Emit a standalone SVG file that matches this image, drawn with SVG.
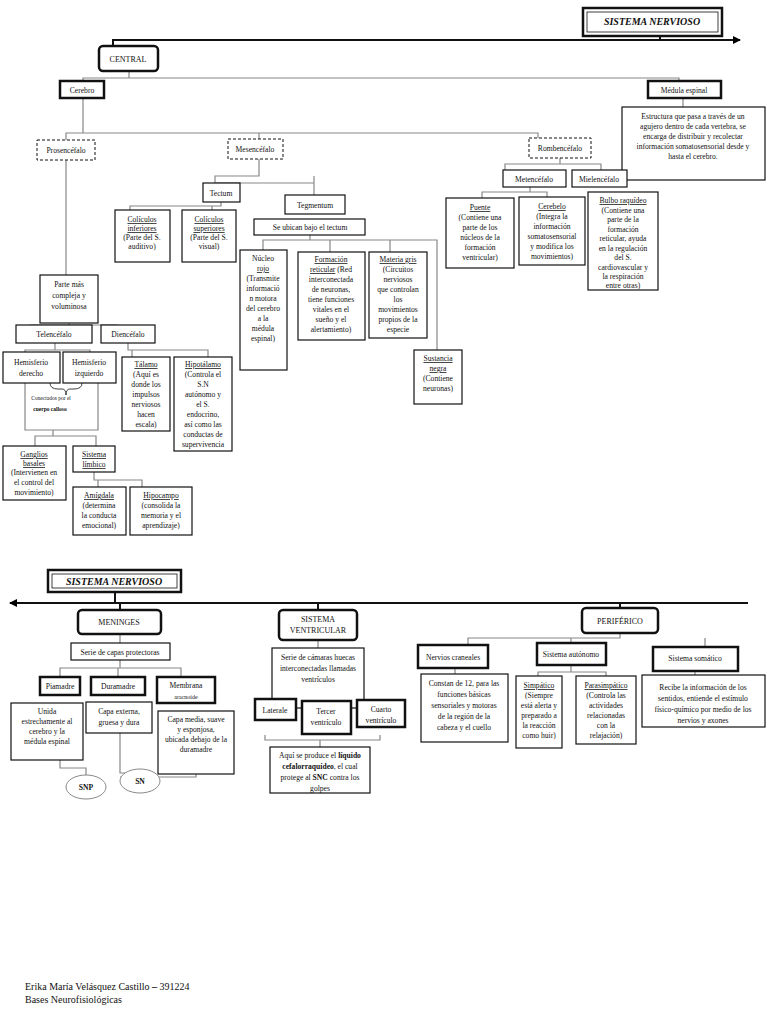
<svg xmlns="http://www.w3.org/2000/svg" width="768" height="1024" viewBox="0 0 768 1024">
<defs><marker id="ar" markerWidth="8" markerHeight="8" refX="7" refY="4" orient="auto" markerUnits="userSpaceOnUse"><path d="M0,0 L8,4 L0,8 z" fill="#000"/></marker></defs>
<style>
text{font-family:"Liberation Serif",serif;font-size:7.6px;fill:#111;text-anchor:middle}
.b{fill:#fff;stroke:#111;stroke-width:1.2}
.t{fill:#fff;stroke:#111;stroke-width:2.5}
.d{fill:#fff;stroke:#111;stroke-width:1;stroke-dasharray:3,2}
.c{fill:none;stroke:#888;stroke-width:1.2}
.k{fill:none;stroke:#111;stroke-width:2}
.u{text-decoration:underline}
.big{font-size:10px;font-weight:bold;font-style:italic}
</style>
<g id="connectors">
<path class="k" d="M660,36 V40 M113,48 V40 H740" marker-end="url(#ar)"/>
<path class="c" d="M129,71 V78 M83,81 V78 H679 V81 M683,98 V107 M83,98 V133 M66,140 V133 H538 V138 M259,133 V139 M66,160 V275 M259,159 V176 H215 V183 H314 M314,176 V195 M221,202 V206 H130 V210 M221,206 H212 V210 M310,235 V240 H263 V250 M310,240 H437 V350 M330,240 V252 M390,240 V252 M560,158 V164 H505 V170 M560,164 H601 V170 M530,187 V192 H482 V198 M530,192 H547 V197 M69,323 V325 H30 M69,325 H118 V325 M55,343 V350 H25 V352 M55,350 H90 V352 M128,343 V350 H208 V357 M132,350 H132 V357 M53,430 V436 H35 V446 M53,436 H96 V446 M94,472 V480 H98 V487 M94,480 H142 V487"/>
<path class="k" d="M748,603 H10" marker-end="url(#ar)"/>
<path class="k" d="M115,592 V603 M120,603 V610 M318,603 V610 M620,603 V608"/>
<path class="c" d="M120,634 V643 M318,640 V648 M620,633 V638 H468 V645 M571,638 V643 M705,638 V647 M120,660 V668 H60 V677 M120,668 H181 V677 M118,668 V677 M318,708 V725 M571,665 V672 H538 V676 M571,672 H606 V676 M455,668 V674 M695,671 V675 M265,735 V740 H380 V735 M320,740 V747 M60,760 V768 H86 V775 M120,733 V773 H140 V769 M196,774 V777 H120"/>
<path class="c" d="M25,383 V430 H98 V383"/>
<path d="M50,383 q0,6 8,6 h4 q4,0 4,6 q0,-6 4,-6 h4 q8,0 8,-6" fill="none" stroke="#111" stroke-width="0.8"/>
</g>
<g id="n_sn1"><rect x="583" y="8" width="139" height="28" class="t"/><rect x="587" y="12" width="131" height="20" fill="none" stroke="#111" stroke-width="0.8"/><text x="652" y="25" class="big">SISTEMA NERVIOSO</text></g>
<g id="n_central"><rect x="99" y="46" width="59" height="25" rx="4" class="t"/><text x="128" y="62" style="font-size:8px">CENTRAL</text></g>
<g id="n_cerebro"><rect x="60" y="81" width="44" height="17" class="t"/><text x="82" y="93">Cerebro</text></g>
<g id="n_medula"><rect x="648" y="81" width="73" height="17" class="t"/><text x="684" y="93">Médula espinal</text></g>
<g id="n_med_d"><rect x="622" y="107" width="143" height="73" class="b"/><text x="693" y="119">Estructura que pasa a través de un</text><text x="693" y="129">agujero dentro de cada vertebra, se</text><text x="693" y="139">encarga  de distribuir y recolectar</text><text x="693" y="149">información somatosensorial desde y</text><text x="693" y="159">hasta el cerebro.</text></g>
<g id="n_pros"><rect x="37" y="140" width="58" height="20" class="d"/><text x="66" y="153">Prosencéfalo</text></g>
<g id="n_mes"><rect x="228" y="139" width="55" height="20" class="d"/><text x="255" y="152">Mesencéfalo</text></g>
<g id="n_rom"><rect x="529" y="138" width="62" height="20" class="d"/><text x="560" y="151">Rombencéfalo</text></g>
<g id="n_tectum"><rect x="203" y="183" width="37" height="19" class="b"/><text x="221" y="196">Tectum</text></g>
<g id="n_tegm"><rect x="285" y="195" width="60" height="19" class="b"/><text x="315" y="208">Tegmentum</text></g>
<g id="n_ubican"><rect x="254" y="219" width="111" height="16" class="b"/><text x="310" y="230">Se ubican bajo el tectum</text></g>
<g id="n_coli"><rect x="115" y="210" width="55" height="52" class="b"/><text x="142" y="222" class="u">Colículos</text><text x="142" y="231" class="u">inferiores</text><text x="142" y="240">(Parte del S.</text><text x="142" y="249">auditivo)</text></g>
<g id="n_cols"><rect x="182" y="210" width="54" height="52" class="b"/><text x="209" y="222" class="u">Colículos</text><text x="209" y="231" class="u">superiores</text><text x="209" y="240">(Parte del S.</text><text x="209" y="249">visual)</text></g>
<g id="n_nucleo"><rect x="240" y="250" width="47" height="120" class="b"/><text x="263" y="261">Núcleo</text><text x="263" y="271" class="u">rojo</text><text x="263" y="281">(Transmite</text><text x="263" y="291">informació</text><text x="263" y="301">n motora</text><text x="263" y="311">del cerebro</text><text x="263" y="321">a la</text><text x="263" y="331">médula</text><text x="263" y="341">espinal)</text></g>
<g id="n_form"><rect x="298" y="252" width="67" height="88" class="b"/><text x="331" y="262" class="u">Formación</text><text x="331" y="272"><tspan class="u">reticular</tspan> (Red</text><text x="331" y="282">interconectada</text><text x="331" y="292">de neuronas,</text><text x="331" y="302">tiene funciones</text><text x="331" y="312">vitales en el</text><text x="331" y="322">sueño y el</text><text x="331" y="332">alertamiento)</text></g>
<g id="n_mat"><rect x="369" y="252" width="58" height="86" class="b"/><text x="398" y="262" class="u">Materia gris</text><text x="398" y="272">(Circuitos</text><text x="398" y="282">nerviosos</text><text x="398" y="292">que controlan</text><text x="398" y="302">los</text><text x="398" y="312">movimientos</text><text x="398" y="322">propios de la</text><text x="398" y="332">especie</text></g>
<g id="n_sust"><rect x="414" y="350" width="48" height="54" class="b"/><text x="438" y="361" class="u">Sustancia</text><text x="438" y="371" class="u">negra</text><text x="438" y="381">(Contiene</text><text x="438" y="391">neuronas)</text></g>
<g id="n_met"><rect x="503" y="170" width="63" height="17" class="b"/><text x="534" y="182">Metencéfalo</text></g>
<g id="n_miel"><rect x="572" y="170" width="55" height="17" class="b"/><text x="599" y="182">Mielencéfalo</text></g>
<g id="n_puente"><rect x="446" y="198" width="68" height="70" class="b"/><text x="480" y="210" class="u">Puente</text><text x="480" y="220">(Contiene una</text><text x="480" y="230">parte de los</text><text x="480" y="240">núcleos de la</text><text x="480" y="250">formación</text><text x="480" y="260">ventricular)</text></g>
<g id="n_cerebelo"><rect x="519" y="197" width="66" height="68" class="b"/><text x="552" y="209" class="u">Cerebelo</text><text x="552" y="219">(Integra la</text><text x="552" y="229">información</text><text x="552" y="239">somatosensorial</text><text x="552" y="249">y modifica los</text><text x="552" y="259">movimientos)</text></g>
<g id="n_bulbo"><rect x="588" y="192" width="70" height="98" class="b"/><text x="623" y="203" class="u">Bulbo raquídeo</text><text x="623" y="212.5">(Contiene una</text><text x="623" y="222">parte de la</text><text x="623" y="231.5">formación</text><text x="623" y="241">reticular, ayuda</text><text x="623" y="250.5">en la regulación</text><text x="623" y="260">del S.</text><text x="623" y="269.5">cardiovascular y</text><text x="623" y="279">la respiración</text><text x="623" y="287.5">entre otras)</text></g>
<g id="n_parte"><rect x="40" y="275" width="58" height="48" class="b"/><text x="69" y="287">Parte más</text><text x="69" y="298">compleja y</text><text x="69" y="309">voluminosa</text></g>
<g id="n_tel"><rect x="16" y="325" width="76" height="18" class="b"/><text x="54" y="337">Telencéfalo</text></g>
<g id="n_die"><rect x="101" y="325" width="54" height="18" class="b"/><text x="128" y="337">Diencéfalo</text></g>
<g id="n_hd"><rect x="3" y="352" width="57" height="31" class="b"/><text x="31" y="365">Hemisferio</text><text x="31" y="376">derecho</text></g>
<g id="n_hi"><rect x="63" y="352" width="53" height="31" class="b"/><text x="89" y="365">Hemisferio</text><text x="89" y="376">izquierdo</text></g>
<g id="n_callo"><text x="51" y="400" style="font-size:5.5px">Conectados por el</text><text x="50" y="411" style="font-size:5.5px;font-weight:bold">cuerpo calloso</text></g>
<g id="n_talamo"><rect x="122" y="357" width="48" height="74" class="b"/><text x="146" y="367" class="u">Tálamo</text><text x="146" y="377">(Aquí es</text><text x="146" y="387">donde los</text><text x="146" y="397">impulsos</text><text x="146" y="407">nerviosos</text><text x="146" y="417">hacen</text><text x="146" y="427">escala)</text></g>
<g id="n_hipot"><rect x="174" y="357" width="58" height="94" class="b"/><text x="203" y="367" class="u">Hipotálamo</text><text x="203" y="377">(Controla el</text><text x="203" y="387">S.N</text><text x="203" y="397">autónomo y</text><text x="203" y="407">el S.</text><text x="203" y="417">endocrino,</text><text x="203" y="427">así como las</text><text x="203" y="437">conductas de</text><text x="203" y="447">supervivencia</text></g>
<g id="n_gang"><rect x="3" y="446" width="63" height="54" class="b"/><text x="34" y="457" class="u">Ganglios</text><text x="34" y="466" class="u">basales</text><text x="34" y="475">(Intervienen en</text><text x="34" y="485">el control del</text><text x="34" y="495">movimiento)</text></g>
<g id="n_limb"><rect x="73" y="446" width="42" height="26" class="b"/><text x="94" y="457" class="u">Sistema</text><text x="94" y="467" class="u">límbico</text></g>
<g id="n_amig"><rect x="73" y="487" width="53" height="48" class="b"/><text x="99" y="498" class="u">Amígdala</text><text x="99" y="508">(determina</text><text x="99" y="518">la conducta</text><text x="99" y="528">emocional)</text></g>
<g id="n_hipo"><rect x="130" y="487" width="62" height="48" class="b"/><text x="161" y="498" class="u">Hipocampo</text><text x="161" y="508">(consolida la</text><text x="161" y="518">memoria y el</text><text x="161" y="528">aprendizaje)</text></g>
<g id="n_sn2"><rect x="48" y="570" width="133" height="22" class="t"/><rect x="52" y="574" width="125" height="14" fill="none" stroke="#111" stroke-width="0.8"/><text x="114" y="585" class="big">SISTEMA NERVIOSO</text></g>
<g id="n_men"><rect x="78" y="610" width="83" height="24" rx="4" class="t"/><text x="119" y="625" style="font-size:8px">MENINGES</text></g>
<g id="n_sv"><rect x="279" y="610" width="78" height="30" rx="4" class="t"/><text x="318" y="622" style="font-size:8px">SISTEMA</text><text x="318" y="633" style="font-size:8px">VENTRICULAR</text></g>
<g id="n_per"><rect x="582" y="608" width="76" height="25" rx="4" class="t"/><text x="620" y="624" style="font-size:8px">PERIFÉRICO</text></g>
<g id="n_serie"><rect x="71" y="643" width="99" height="17" class="b"/><text x="120" y="655">Serie de capas protectoras</text></g>
<g id="n_pia"><rect x="40" y="677" width="40" height="18" class="t"/><text x="60" y="689">Piamadre</text></g>
<g id="n_dura"><rect x="91" y="677" width="54" height="18" class="t"/><text x="118" y="689">Duramadre</text></g>
<g id="n_arac"><rect x="157" y="677" width="58" height="26" class="t"/><text x="186" y="688">Membrana</text><text x="186" y="699" style="font-size:6px">aracnoide</text></g>
<g id="n_unida"><rect x="11" y="703" width="72" height="57" class="b"/><text x="47" y="714">Unida</text><text x="47" y="724">estrechamente al</text><text x="47" y="734">cerebro y la</text><text x="47" y="744">médula espinal</text></g>
<g id="n_capae"><rect x="86" y="702" width="66" height="31" class="b"/><text x="119" y="714">Capa externa,</text><text x="119" y="725">gruesa y dura</text></g>
<g id="n_capam"><rect x="158" y="711" width="76" height="63" class="b"/><text x="196" y="722">Capa media, suave</text><text x="196" y="732">y esponjosa,</text><text x="196" y="742">ubicada debajo de la</text><text x="196" y="752">duramadre</text></g>
<g id="n_snp"><ellipse cx="86" cy="787" rx="20" ry="12" fill="#fff" stroke="#888"/><text x="86" y="790" font-weight="bold">SNP</text></g>
<g id="n_snn"><ellipse cx="140" cy="781" rx="20" ry="12" fill="#fff" stroke="#888"/><text x="140" y="784" font-weight="bold">SN</text></g>
<g id="n_cam"><rect x="272" y="648" width="92" height="60" class="b"/><text x="318" y="660">Serie de cámaras huecas</text><text x="318" y="671">interconectadas llamadas</text><text x="318" y="682">ventrículos</text></g>
<g id="n_lat"><rect x="255" y="699" width="41" height="21" class="t"/><text x="275" y="713">Laterale</text></g>
<g id="n_ter"><rect x="302" y="701" width="49" height="33" class="t"/><text x="326" y="714">Tercer</text><text x="326" y="725">ventrículo</text></g>
<g id="n_cua"><rect x="357" y="700" width="48" height="27" class="t"/><text x="381" y="712">Cuarto</text><text x="381" y="723">ventrículo</text></g>
<g id="n_aqui"><rect x="270" y="747" width="100" height="46" class="b"/><text x="320" y="758">Aquí se produce el <tspan font-weight="bold">líquido</tspan></text><text x="320" y="769"><tspan font-weight="bold">cefalorraquídeo</tspan>, el cual</text><text x="320" y="780">protege al <tspan font-weight="bold">SNC</tspan> contra los</text><text x="320" y="791">golpes</text></g>
<g id="n_nerv"><rect x="418" y="645" width="70" height="23" class="t"/><text x="453" y="660">Nervios craneales</text></g>
<g id="n_const"><rect x="421" y="674" width="87" height="68" class="b"/><text x="464" y="686">Constan de 12, para las</text><text x="464" y="697">funciones básicas</text><text x="464" y="708">sensoriales y motoras</text><text x="464" y="719">de la región de la</text><text x="464" y="730">cabeza y el cuello</text></g>
<g id="n_aut"><rect x="537" y="643" width="69" height="22" class="t"/><text x="571" y="657">Sistema autónomo</text></g>
<g id="n_sim"><rect x="516" y="676" width="46" height="72" class="b"/><text x="539" y="688" class="u">Simpático</text><text x="539" y="698">(Siempre</text><text x="539" y="708">está alerta y</text><text x="539" y="718">preparado a</text><text x="539" y="728">la reacción</text><text x="539" y="738">como huir)</text></g>
<g id="n_para"><rect x="576" y="676" width="60" height="68" class="b"/><text x="606" y="688" class="u">Parasimpático</text><text x="606" y="698">(Controla las</text><text x="606" y="708">actividades</text><text x="606" y="718">relacionadas</text><text x="606" y="728">con la</text><text x="606" y="738">relajación)</text></g>
<g id="n_som"><rect x="653" y="647" width="85" height="24" class="t"/><text x="695" y="661">Sistema somático</text></g>
<g id="n_rec"><rect x="642" y="675" width="123" height="52" class="b"/><text x="703" y="690">Recibe la información de los</text><text x="703" y="701">sentidos, entiende el estímulo</text><text x="703" y="712">físico-químico por medio de los</text><text x="703" y="723">nervios y axones</text></g>
<g id="footer"><text x="25" y="990" style="text-anchor:start;font-size:10px">Erika María Velásquez Castillo <tspan font-weight="bold">–</tspan> 391224</text><text x="25" y="1003" style="text-anchor:start;font-size:10px">Bases Neurofisiológicas</text></g>
</svg>
